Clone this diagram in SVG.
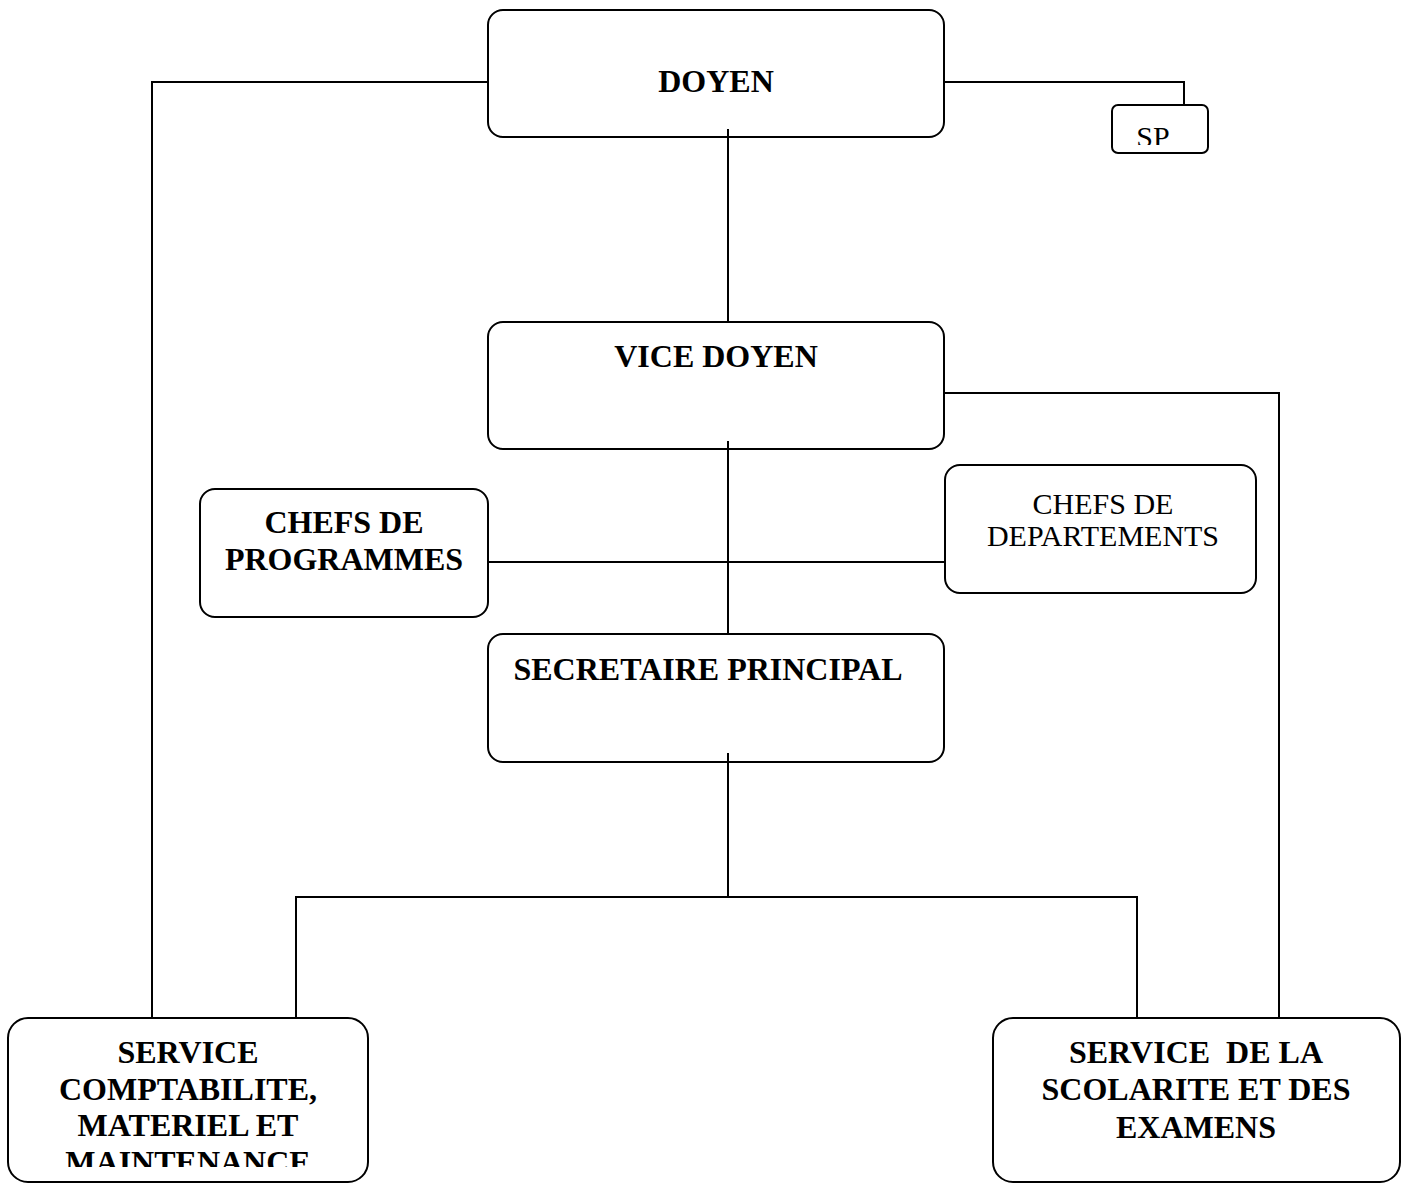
<svg xmlns="http://www.w3.org/2000/svg" width="1409" height="1183" viewBox="0 0 1409 1183">
<style>
.box{fill:#fff;stroke:#000;stroke-width:2}
.ln{fill:none;stroke:#000;stroke-width:2}
.b{font-family:"Liberation Serif","Times New Roman",serif;font-weight:bold;font-size:32px;fill:#000;text-anchor:middle}
.r{font-family:"Liberation Serif","Times New Roman",serif;font-size:30px;fill:#000;text-anchor:middle}
</style>
<defs>
<clipPath id="clipSP"><rect x="1112" y="105" width="96" height="40"/></clipPath>
<clipPath id="clipSC"><rect x="7" y="1018" width="361" height="149"/></clipPath>
</defs>
<g id="doyen">
<rect class="box" x="488" y="10" width="456" height="127" rx="15"/>
<text class="b" x="716" y="92">DOYEN</text>
</g>
<g id="sp">
<rect class="box" x="1112" y="105" width="96" height="48" rx="6"/>
<text class="r" x="1153" y="147" font-size="33" clip-path="url(#clipSP)">SP</text>
</g>
<g id="vice-doyen">
<rect class="box" x="488" y="322" width="456" height="127" rx="15"/>
<text class="b" x="716" y="367">VICE DOYEN</text>
</g>
<g id="chefs-programmes">
<rect class="box" x="200" y="489" width="288" height="128" rx="15"/>
<text class="b" x="344" y="533">CHEFS DE</text>
<text class="b" x="344" y="570">PROGRAMMES</text>
</g>
<g id="chefs-departements">
<rect class="box" x="945" y="465" width="311" height="128" rx="15"/>
<text class="r" x="1103" y="514">CHEFS DE</text>
<text class="r" x="1103" y="546">DEPARTEMENTS</text>
</g>
<g id="secretaire-principal">
<rect class="box" x="488" y="634" width="456" height="128" rx="15"/>
<text class="b" x="708" y="680">SECRETAIRE PRINCIPAL</text>
</g>
<g id="service-comptabilite">
<rect class="box" x="8" y="1018" width="360" height="164" rx="20"/>
<g clip-path="url(#clipSC)">
<text class="b" x="188" y="1063">SERVICE</text>
<text class="b" x="188" y="1100">COMPTABILITE,</text>
<text class="b" x="188" y="1136">MATERIEL ET</text>
<text class="b" x="188" y="1173">MAINTENANCE</text>
</g>
</g>
<g id="service-scolarite">
<rect class="box" x="993" y="1018" width="407" height="164" rx="20"/>
<text class="b" x="1196" y="1063" xml:space="preserve">SERVICE  DE LA</text>
<text class="b" x="1196" y="1100">SCOLARITE ET DES</text>
<text class="b" x="1196" y="1138">EXAMENS</text>
</g>
<g id="connectors">
<polyline class="ln" points="488,82 152,82 152,1018"/>
<polyline class="ln" points="944,82 1184,82 1184,105"/>
<line class="ln" x1="728" y1="129" x2="728" y2="322"/>
<polyline class="ln" points="944,393 1279,393 1279,1018"/>
<line class="ln" x1="728" y1="441" x2="728" y2="634"/>
<line class="ln" x1="488" y1="562" x2="945" y2="562"/>
<line class="ln" x1="728" y1="753" x2="728" y2="897"/>
<polyline class="ln" points="296,1018 296,897 1137,897 1137,1018"/>
</g>
</svg>
